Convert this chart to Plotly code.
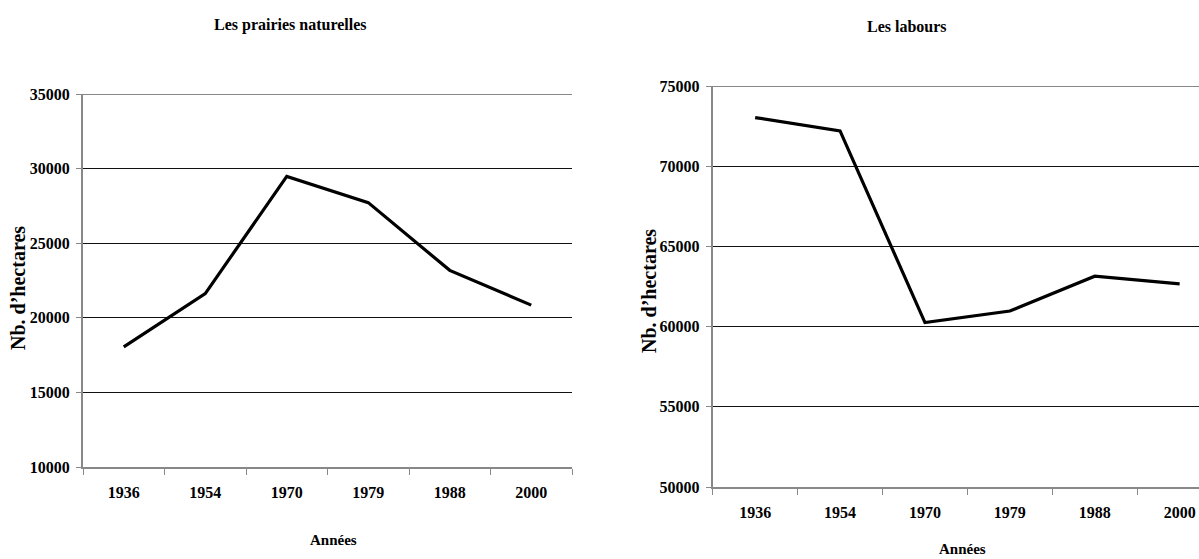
import plotly.graph_objects as go

# ---- data ----
years = ["1936", "1954", "1970", "1979", "1988", "2000"]
prairies = [18050, 21620, 29480, 27720, 23180, 20850]
labours = [73030, 72200, 60250, 60970, 63140, 62660]
prairies_ticks = [10000, 15000, 20000, 25000, 30000, 35000]
labours_ticks = [50000, 55000, 60000, 65000, 70000, 75000]
title_left = "Les prairies naturelles"
title_right = "Les labours"
ytitle = "Nb. d\u2019hectares"
xtitle = "Années"

W, H = 1199, 559
FONT = "Liberation Serif, Times New Roman, serif"


def fx(px):
    return px / W


def fy(py):
    return 1 - py / H


AXC = "#888888"


def tickfont():
    return dict(family=FONT, size=16, color="black", weight="bold")


fig = go.Figure()
fig.add_trace(go.Scatter(x=years, y=prairies, mode="lines",
                         line=dict(color="black", width=3.2),
                         xaxis="x", yaxis="y", showlegend=False))
fig.add_trace(go.Scatter(x=years, y=labours, mode="lines",
                         line=dict(color="black", width=3.2),
                         xaxis="x2", yaxis="y2", showlegend=False))


def xcommon():
    return dict(type="category", tickson="boundaries", ticks="outside",
                ticklen=6, tickcolor=AXC, tickwidth=1, showline=True,
                linecolor=AXC, linewidth=2, showgrid=False, zeroline=False,
                tickfont=tickfont(), ticklabelstandoff=10, fixedrange=True,
                automargin=False)


def ycommon():
    return dict(ticks="outside", ticklen=5, tickcolor=AXC, tickwidth=1,
                showline=True, linecolor=AXC, linewidth=2, showgrid=True,
                gridcolor="#111111", gridwidth=1, zeroline=False,
                tickfont=tickfont(), ticklabelstandoff=3, fixedrange=True,
                automargin=False)


# right chart is cut at the page edge: category spacing ~85 px
right_start = 712.7
spacing = 84.9
right_end_cat = -0.5 + (W - right_start) / spacing

fig.update_layout(
    width=W, height=H, autosize=False,
    margin=dict(l=0, r=0, t=0, b=0, pad=0, autoexpand=False),
    paper_bgcolor="white", plot_bgcolor="white",
    xaxis=dict(domain=[fx(83), fx(572)], anchor="y", range=[-0.5, 5.5], **xcommon()),
    yaxis=dict(domain=[fy(467), fy(94)], anchor="x", range=[prairies_ticks[0], prairies_ticks[-1]],
               tickvals=prairies_ticks, ticktext=[str(v) for v in prairies_ticks], **ycommon()),
    xaxis2=dict(domain=[fx(right_start), 1.0], anchor="y2", range=[-0.5, right_end_cat], **xcommon()),
    yaxis2=dict(domain=[fy(487), fy(86)], anchor="x2", range=[labours_ticks[0], labours_ticks[-1]],
                tickvals=labours_ticks, ticktext=[str(v) for v in labours_ticks], **ycommon()),
    shapes=[
        dict(type="line", xref="x domain", yref="y", x0=0, x1=1,
             y0=prairies_ticks[-1], y1=prairies_ticks[-1], line=dict(color=AXC, width=2)),
        dict(type="line", xref="x2 domain", yref="y2", x0=0, x1=1,
             y0=labours_ticks[-1], y1=labours_ticks[-1], line=dict(color=AXC, width=2)),
    ],
)

tfont = dict(family=FONT, size=16, color="black", weight="bold")
afont = dict(family=FONT, size=15, color="black", weight="bold")
yfont = dict(family=FONT, size=20, color="black", weight="bold")

annots = [
    dict(text=title_left, x=fx(290), y=fy(25), font=tfont),
    dict(text=title_right, x=fx(907), y=fy(27), font=tfont),
    dict(text=xtitle, x=fx(333), y=fy(540), font=afont),
    dict(text=xtitle, x=fx(963), y=fy(549), font=afont),
    dict(text=ytitle, x=fx(18), y=fy(288), font=yfont, textangle=-90),
    dict(text=ytitle, x=fx(649), y=fy(291), font=yfont, textangle=-90),
]
for a in annots:
    fig.add_annotation(xref="paper", yref="paper", showarrow=False,
                       xanchor="center", yanchor="middle", **a)

fig.write_html("out.html", config={"displayModeBar": False, "responsive": False},
               default_width="1199px", default_height="559px",
               post_script="document.body.style.margin='0';")
